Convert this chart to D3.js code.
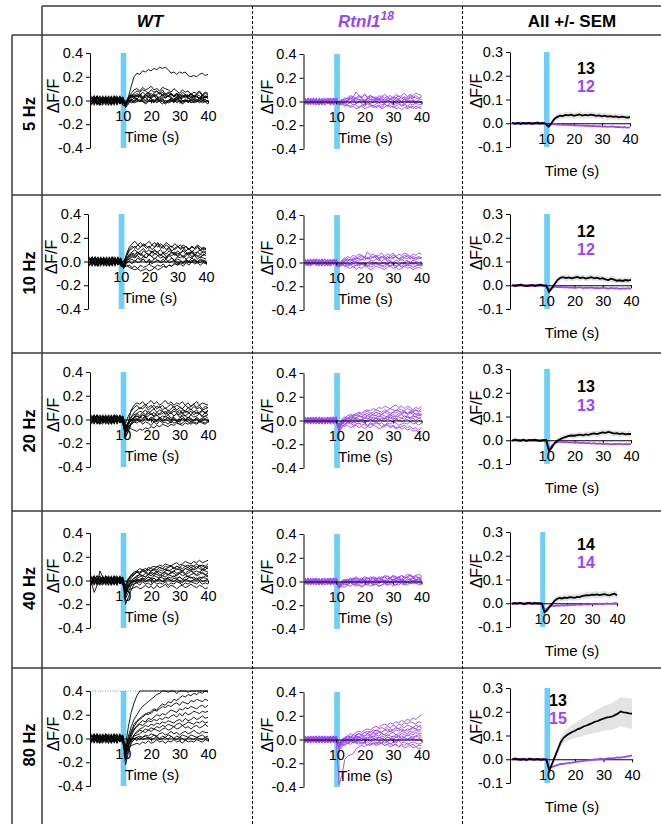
<!DOCTYPE html>
<html><head><meta charset="utf-8">
<script src="https://cdn.jsdelivr.net/npm/d3@7"></script>
<style>
body{margin:0;background:#fff;}
svg{display:block;font-family:"Liberation Sans",Arial,sans-serif;}
</style></head><body>
<svg id="c" width="661" height="824"></svg>
<script>
// ---------- data ----------
const rowLabels = ["5 Hz","10 Hz","20 Hz","40 Hz","80 Hz"];
const nWT = [13,12,13,14,13];
const nRtnl = [12,12,13,14,15];
const traceTimes = [-1,0,1,2,3,4,5,6,7,8,9,10,11,12,13,14,15,16,17,18,19,20,21,22,23,24,25,26,27,28,29,30,31,32,33,34,35,36,37,38,39,40];
const semTimes = [-2,-1,0,1,2,3,4,5,6,7,8,9,10,11,12,13,14,15,16,17,18,19,20,21,22,23,24,25,26,27,28,29,30,31,32,33,34,35,36,37,38,39,40];
const traceTicksY = [-0.4,-0.2,0,0.2,0.4];
const semTicksY = [-0.1,0,0.1,0.2,0.3];
const timeTicks = [10,20,30,40];
const stimWindow = [9.3,11.3];

// individual traces, ΔF/F in hundredths
const wt5Hz = [
[2,-3,1,4,-2,0,3,-4,1,-1,3,-2,-2,3,12,20,23,22,25,24,26,25,27,26,28,27,28,26,23,24,22,24,23,24,21,20,21,20,22,23,21,22],
[-3,1,4,-1,2,-4,0,3,-2,1,-3,2,-3,3,6,9,10,8,11,9,10,12,9,10,8,11,10,9,7,10,8,6,9,7,8,5,7,6,8,5,7,6],
[1,4,-2,-3,3,1,-4,2,0,-2,4,-1,-4,0,4,6,8,7,9,8,6,9,7,8,6,9,5,7,6,4,6,5,3,5,4,6,3,5,4,2,4,3],
[-2,0,3,-4,1,3,-1,-3,4,0,-2,3,-3,1,3,2,4,3,1,3,5,2,4,3,1,3,2,4,2,0,3,1,2,4,2,1,3,0,2,1,3,2],
[4,-1,-3,2,0,-2,4,1,-3,3,-1,0,-5,-2,0,2,1,-1,2,0,3,1,-1,2,0,1,-2,0,2,-1,1,3,0,-1,2,0,1,-1,2,0,1,-1],
[0,-4,2,1,-3,4,-2,0,3,-4,2,1,-4,-1,2,4,3,5,2,4,6,3,5,4,2,5,3,4,6,3,5,2,4,3,5,2,4,3,1,3,2,4],
[-1,3,-4,0,4,-2,1,-3,2,4,-3,-1,-2,0,-2,-1,1,-1,0,-3,-1,0,-2,1,-1,-3,0,-2,-1,1,-2,0,-3,-1,0,-2,-1,1,-2,0,-1,-3],
[3,-2,0,-3,1,2,-4,4,-1,-2,1,3,-3,2,5,3,6,4,7,5,3,6,4,5,7,4,6,3,5,4,6,3,5,2,4,5,3,4,2,5,3,4],
[-4,2,1,3,-2,-1,3,-2,4,-3,0,2,-6,-3,1,0,2,-1,1,3,0,2,-1,1,0,2,-2,0,1,-1,2,0,-1,1,-2,0,1,-1,0,2,-1,0],
[1,-1,4,-2,-4,3,0,2,-3,1,3,-4,-4,1,3,5,4,6,3,5,7,4,6,8,5,7,4,6,5,3,6,4,7,5,3,6,4,5,7,4,6,5],
[-3,4,-1,2,0,-3,2,-4,1,3,-2,0,-2,-1,0,-2,-1,1,-1,-2,0,-1,1,-2,0,-1,-3,-1,0,-2,1,-1,-2,0,-1,1,-2,-1,0,-2,-1,0],
[2,0,-2,-4,3,1,-1,3,-4,2,0,-3,-3,2,4,3,1,4,2,5,3,2,4,1,3,5,2,4,3,1,4,2,3,5,2,4,1,3,2,4,3,2]
];
const wt10Hz = [
[2,-3,1,4,-2,0,3,-4,1,-1,3,-2,-4,6,12,15,17,14,16,13,15,17,14,16,12,15,13,16,14,12,15,13,11,14,12,10,13,11,14,12,10,11],
[-3,1,4,-1,2,-4,0,3,-2,1,-3,2,-2,4,9,11,13,10,12,14,11,13,10,12,15,11,13,10,12,9,11,13,10,12,9,11,8,10,12,9,11,10],
[1,4,-2,-3,3,1,-4,2,0,-2,4,-1,-5,2,6,8,10,7,9,11,8,10,7,9,8,10,7,9,11,8,6,9,7,10,8,6,9,7,8,10,7,9],
[-2,0,3,-4,1,3,-1,-3,4,0,-2,3,-3,3,5,7,6,8,5,9,7,6,8,10,7,5,8,6,9,7,8,5,7,9,6,8,7,5,8,6,9,7],
[4,-1,-3,2,0,-2,4,1,-3,3,-1,0,-6,0,3,5,4,6,7,5,3,6,4,7,5,6,4,3,6,5,7,4,6,3,5,7,4,6,5,3,6,5],
[0,-4,2,1,-3,4,-2,0,3,-4,2,1,-4,1,2,4,3,5,2,4,3,6,4,2,5,3,4,2,5,3,1,4,3,5,2,4,3,5,2,4,3,2],
[-1,3,-4,0,4,-2,1,-3,2,4,-3,-1,-5,-2,1,2,0,3,1,2,-1,2,0,3,1,0,2,-1,1,3,0,2,1,-1,2,0,3,1,0,2,1,0],
[3,-2,0,-3,1,2,-4,4,-1,-2,1,3,-3,-1,0,-2,1,-1,0,2,-1,1,-2,0,1,-1,0,2,-1,0,1,-2,0,-1,1,0,-1,2,0,-1,1,0],
[-4,2,1,3,-2,-1,3,-2,4,-3,0,2,-5,-4,-3,-5,-4,-6,-3,-5,-4,-2,-4,-5,-3,-4,-2,-5,-3,-4,-1,-3,-2,-4,-1,-3,0,-2,-1,-3,-1,-2],
[1,-1,4,-2,-4,3,0,2,-3,1,3,-4,-4,-3,-5,-6,-7,-6,-8,-7,-6,-8,-7,-5,-7,-6,-4,-5,-3,-4,-2,-3,-1,-2,0,-1,1,0,-1,1,0,-1],
[-3,4,-1,2,0,-3,2,-4,1,3,-2,0,0,5,10,13,11,14,12,15,13,11,14,12,16,13,11,14,12,13,10,12,14,11,13,10,12,11,13,10,12,11],
[2,0,-2,-4,3,1,-1,3,-4,2,0,-3,-3,2,4,6,5,8,6,4,7,5,9,6,8,5,7,4,6,8,5,7,6,4,7,5,8,6,4,6,5,7]
];
const wt20Hz = [
[2,-3,1,4,-2,0,3,-4,1,-1,3,-2,-8,-2,8,12,14,13,15,12,14,16,13,15,12,14,16,13,15,12,14,13,15,12,14,11,13,15,12,14,13,12],
[-3,1,4,-1,2,-4,0,3,-2,1,-3,2,-12,-5,2,6,8,10,9,11,8,10,12,9,11,8,10,7,9,11,8,10,9,7,10,8,11,9,10,8,9,10],
[1,4,-2,-3,3,1,-4,2,0,-2,4,-1,-15,-10,-3,2,5,7,6,8,5,7,9,6,8,7,5,8,6,9,7,5,8,6,7,9,6,8,5,7,6,8],
[-2,0,3,-4,1,3,-1,-3,4,0,-2,3,-6,-2,2,4,5,3,6,4,7,5,3,6,4,5,7,4,6,3,5,4,6,3,5,7,4,6,5,3,6,4],
[4,-1,-3,2,0,-2,4,1,-3,3,-1,0,-9,-4,0,2,3,1,4,2,3,5,2,4,1,3,2,4,1,3,5,2,4,3,1,4,2,3,5,2,3,4],
[0,-4,2,1,-3,4,-2,0,3,-4,2,1,-7,-3,-1,0,1,-2,0,2,-1,1,0,-2,1,-1,0,2,-1,1,-2,0,1,-1,2,0,-1,1,-2,0,1,-1],
[-1,3,-4,0,4,-2,1,-3,2,4,-3,-1,-10,-6,-4,-2,-3,-1,-4,-2,-3,-5,-2,-4,-1,-3,-2,-4,-1,-3,-2,-4,-3,-1,-2,-4,-2,-3,-1,-2,-3,-1],
[3,-2,0,-3,1,2,-4,4,-1,-2,1,3,-5,-6,-8,-9,-10,-8,-9,-7,-8,-6,-7,-5,-6,-4,-5,-6,-4,-5,-3,-4,-5,-3,-4,-2,-3,-4,-2,-3,-4,-2],
[-4,2,1,3,-2,-1,3,-2,4,-3,0,2,-3,3,7,10,12,9,11,13,10,12,9,11,10,12,9,11,13,10,12,11,9,12,10,11,13,10,12,9,11,10],
[1,-1,4,-2,-4,3,0,2,-3,1,3,-4,-8,-3,0,1,3,2,4,3,5,4,6,3,5,7,4,6,5,7,6,8,5,7,6,4,7,5,6,8,5,7],
[-3,4,-1,2,0,-3,2,-4,1,3,-2,0,-11,-7,-3,-1,0,2,1,3,0,2,1,-1,2,0,3,1,0,2,-1,1,3,0,2,1,-1,2,0,1,3,1],
[2,0,-2,-4,3,1,-1,3,-4,2,0,-3,-14,-9,-4,-2,-1,0,-2,1,-1,0,-2,-1,1,-2,0,-1,-3,0,-1,-2,1,-1,0,-2,-1,0,-2,-1,0,-1]
];
const wt40Hz = [
[2,-3,1,4,-2,0,3,-4,1,-1,3,-2,-5,0,4,6,8,7,9,10,9,11,12,11,13,12,14,13,12,14,15,13,14,16,15,14,16,15,17,15,16,17],
[-3,1,4,-1,2,-4,0,3,-2,1,-3,2,-8,-2,2,5,7,6,8,7,9,8,10,9,11,10,9,11,12,10,12,11,13,12,11,13,12,14,12,13,12,14],
[1,4,-2,-3,3,1,-4,2,0,-2,4,-1,-12,-6,-1,2,4,5,4,6,5,7,6,8,7,6,8,9,7,8,10,9,8,10,9,11,9,10,12,10,9,11],
[-2,-10,-4,1,-1,3,-1,-3,4,0,-2,3,-15,-10,-4,0,2,3,4,3,5,4,6,5,4,6,7,5,6,8,6,7,8,6,8,9,7,8,7,9,8,7],
[4,-1,-3,8,3,-2,4,1,-3,3,-1,0,-20,-14,-8,-3,0,1,2,1,3,2,4,3,2,4,3,5,4,3,5,6,4,5,3,5,6,4,5,7,5,4],
[0,-4,2,1,-3,4,-2,0,3,-4,2,1,-10,-5,-2,0,1,0,2,1,3,1,2,0,3,2,1,3,2,4,2,3,1,3,4,2,3,1,3,2,4,3],
[-1,3,-4,0,4,-2,1,-3,2,4,-3,-1,-7,-4,-2,-1,0,-2,1,-1,0,2,-1,0,1,-1,0,2,0,-1,1,0,-2,1,0,-1,1,0,2,-1,0,1],
[3,-2,0,-3,1,2,-4,4,-1,-2,1,3,-9,-6,-4,-3,-2,-4,-1,-3,-2,-4,-1,-3,-2,-3,-1,-4,-2,-3,-1,-2,-4,-2,-3,-1,-2,-3,-1,-3,-2,-3],
[-4,2,1,3,-2,-1,3,-2,4,-3,0,2,-11,-8,-7,-6,-5,-7,-6,-4,-6,-5,-7,-4,-6,-5,-3,-6,-4,-5,-7,-5,-4,-6,-5,-3,-5,-6,-4,-5,-7,-6],
[1,-1,4,-2,-4,3,0,2,-3,1,3,-4,-6,1,5,7,8,10,9,8,11,10,9,12,11,10,12,11,13,10,12,11,10,12,13,11,12,10,13,12,11,12],
[-3,4,-1,2,0,-3,2,-4,1,3,-2,0,-13,-5,0,2,3,5,4,3,5,6,4,7,5,4,6,5,7,6,4,6,7,5,6,8,6,5,7,6,5,6],
[2,0,-2,-4,3,1,-1,3,-4,2,0,-3,-8,-3,-1,0,-2,0,1,-1,1,0,2,0,1,-1,2,1,0,2,1,3,1,0,2,3,1,2,0,3,2,1],
[-2,3,1,-1,-3,4,2,-2,0,-4,3,1,-4,2,4,5,7,6,8,7,6,8,9,7,9,8,10,8,9,11,9,10,8,10,11,9,10,12,10,9,11,10]
];
const wt80Hz = [
[2,-3,1,4,-2,0,3,-4,1,-1,3,-2,-6,10,22,30,36,40,40,40,40,40,40,40,40,40,40,40,40,40,40,40,40,40,40,40,40,40,40,40,40,40],
[-3,1,4,-1,2,-4,0,3,-2,1,-3,2,-10,2,10,16,20,24,27,29,31,33,35,37,38,40,40,39,40,40,38,40,40,40,39,40,40,40,40,40,40,40],
[1,4,-2,-3,3,1,-4,2,0,-2,4,-1,-12,-4,5,10,14,16,18,20,22,21,24,23,25,27,26,28,27,29,30,28,31,30,29,32,31,33,32,31,33,32],
[-2,0,3,-4,1,3,-1,-3,4,0,-2,3,-15,-8,2,7,11,13,15,14,17,16,18,20,19,21,20,22,24,23,22,25,24,26,25,27,26,25,27,28,26,28],
[4,-1,-3,2,0,-2,4,1,-3,3,-1,0,-8,-2,4,8,10,12,11,13,15,14,16,15,17,16,18,17,19,20,18,21,19,22,20,21,23,22,21,23,22,23],
[0,-4,2,1,-3,4,-2,0,3,-4,2,1,-22,-12,-3,3,6,8,9,11,10,12,11,13,12,14,13,15,14,13,15,16,14,17,15,16,18,16,17,19,17,18],
[-1,3,-4,0,4,-2,1,-3,2,4,-3,-1,-14,-6,0,3,5,7,6,8,7,9,8,10,9,11,10,12,11,10,12,13,11,12,14,13,12,14,13,15,13,14],
[3,-2,0,-3,1,2,-4,4,-1,-2,1,3,-10,-5,-1,2,3,4,6,5,7,6,8,7,6,8,9,7,8,10,8,9,11,9,10,8,10,11,9,10,12,10],
[-4,2,1,3,-2,-1,3,-2,4,-3,0,2,-18,-10,-4,-1,1,2,1,3,2,4,3,2,4,5,3,4,6,4,5,3,5,6,4,5,7,5,4,6,5,5],
[1,-1,4,-2,-4,3,0,2,-3,1,3,-4,-9,-5,-2,0,1,-1,1,2,0,1,3,1,0,2,1,3,2,0,2,1,3,2,1,3,2,1,2,3,1,2],
[-3,4,-1,2,0,-3,2,-4,1,3,-2,0,-7,-3,-1,0,-2,1,-1,0,1,-1,0,2,-1,0,1,-1,2,0,-1,1,0,-2,1,0,-1,1,0,-1,1,0],
[2,0,-2,-4,3,1,-1,3,-4,2,0,-3,-12,-8,-6,-5,-4,-5,-3,-4,-2,-4,-3,-1,-3,-2,-4,-2,-3,-1,-3,-2,-4,-1,-3,-2,-3,-1,-2,-3,-1,-2],
[-2,3,1,-1,-3,4,2,-2,0,-4,3,1,-8,0,6,12,15,17,19,21,20,23,25,24,27,29,28,31,30,33,32,34,36,35,37,36,38,37,39,38,40,39]
];
const rtnl5Hz = [
[1,-2,3,-1,0,2,-3,1,-1,3,-2,0,-1,1,2,3,2,4,3,5,4,6,3,5,4,2,5,3,6,4,5,3,6,4,5,7,4,6,5,7,6,5],
[-2,1,-1,3,-3,0,2,-1,3,-2,1,-1,-2,0,1,3,5,4,8,5,3,6,4,5,3,4,2,5,3,4,2,4,3,5,2,4,3,5,4,3,2,4],
[3,-1,0,-2,2,-3,1,3,-2,0,-1,2,-1,-2,0,1,2,0,3,1,2,0,3,1,2,3,1,2,0,3,2,1,3,2,0,2,1,3,2,0,1,2],
[-1,3,-2,1,-1,2,-3,0,2,-3,3,-1,-3,-1,-2,0,-1,1,-2,0,-1,1,0,-2,0,1,-1,0,-2,1,0,-1,1,-1,0,-2,0,1,-1,0,-1,0],
[0,-3,2,-2,3,-1,1,-3,0,2,-2,3,-2,-1,-3,-2,-1,-3,-2,0,-2,-3,-1,-2,-4,-2,-1,-3,-2,-4,-1,-3,-2,-1,-3,-2,-4,-2,-3,-1,-3,-2],
[2,0,-3,3,-1,-2,3,-1,1,-3,2,0,-2,-2,-1,-3,-4,-2,-3,-5,-3,-4,-2,-3,-5,-4,-3,-5,-2,-4,-3,-5,-4,-2,-4,-3,-5,-4,-6,-4,-5,-4],
[-3,2,1,-1,2,-3,0,2,-2,1,3,-2,0,2,0,1,3,2,1,2,0,1,2,4,1,2,3,1,2,0,2,3,1,2,4,3,2,4,3,5,3,4],
[1,-1,-2,2,-3,3,-1,0,3,-1,-2,1,-3,-2,-4,-3,-5,-4,-6,-5,-4,-6,-5,-4,-3,-5,-4,-6,-5,-3,-5,-4,-6,-5,-7,-5,-6,-5,-4,-6,-5,-6],
[-2,3,-1,0,1,-2,2,-3,1,3,-3,0,-1,1,3,2,4,3,2,4,3,1,3,2,0,2,1,3,1,2,0,1,-1,1,0,2,-1,0,1,-1,0,-1],
[3,-2,2,-3,0,1,-2,2,-1,-2,1,3,-2,0,-1,1,0,2,-1,0,1,-1,1,0,-1,0,2,0,-1,1,0,-2,0,1,-1,0,1,-1,0,-2,0,-1]
];
const rtnl10Hz = [
[0,2,-3,1,3,-1,-2,1,-3,2,0,-2,-2,1,3,5,4,6,5,7,6,4,9,6,7,5,6,8,5,7,6,8,5,7,6,8,7,5,7,6,8,7],
[-1,-2,3,0,-2,3,1,-3,2,-1,3,-1,-3,0,2,3,2,4,3,5,6,4,3,5,4,6,3,5,4,2,4,3,5,3,2,4,3,5,4,2,4,3],
[2,-3,0,2,-1,-2,3,0,-3,1,-1,2,-2,-1,1,2,1,3,2,1,3,2,4,2,1,3,2,1,3,1,2,0,2,1,3,1,2,0,2,1,0,1],
[-3,1,2,-2,3,0,-1,3,-2,0,2,-3,-4,-2,-1,0,-2,-1,1,-1,0,-2,0,1,-1,0,-2,-1,0,-1,1,-1,0,-2,0,-1,1,0,-1,0,-2,-1],
[1,-2,3,-1,0,2,-3,1,-1,3,-2,0,-3,-2,-3,-1,-2,-4,-2,-3,-1,-3,-2,-4,-3,-1,-2,-3,-4,-2,-3,-1,-3,-2,-4,-3,-2,-3,-1,-3,-2,-3],
[-2,1,-1,3,-3,0,2,-1,3,-2,1,-1,-2,-1,-3,-4,-5,-3,-6,-4,-5,-3,-4,-6,-5,-3,-4,-5,-6,-4,-3,-5,-4,-6,-5,-3,-5,-4,-6,-5,-4,-5],
[3,-1,0,-2,2,-3,1,3,-2,0,-1,2,-1,2,4,2,3,1,4,3,2,5,4,3,5,4,2,4,5,3,6,4,5,3,4,6,5,3,5,4,3,4],
[-1,3,-2,1,-1,2,-3,0,2,-3,3,-1,-3,-1,0,-2,-1,1,0,-2,-1,0,-3,-1,-2,0,-1,-3,-2,-1,-3,-2,-4,-2,-3,-1,-3,-2,-4,-3,-2,-3],
[0,-3,2,-2,3,-1,1,-3,0,2,-2,3,-2,0,2,1,3,2,4,3,5,4,3,5,4,6,4,5,3,5,4,6,5,3,5,4,6,5,3,4,5,4],
[2,0,-3,3,-1,-2,3,-1,1,-3,2,0,-3,-2,-1,-3,-2,-1,-3,0,-2,-1,-3,-2,0,-1,-2,0,-1,-2,1,-1,0,-2,-1,0,-2,-1,0,-1,-2,-1]
];
const rtnl20Hz = [
[1,-2,3,-1,0,2,-3,1,-1,3,-2,0,-4,0,2,4,5,4,6,7,6,8,9,8,10,9,11,10,12,11,10,12,13,11,12,10,12,11,9,11,10,12],
[-2,1,-1,3,-3,0,2,-1,3,-2,1,-1,-6,-2,1,2,3,5,4,6,5,7,8,6,7,9,8,7,9,8,10,9,8,10,9,8,10,9,8,9,7,8],
[3,-1,0,-2,2,-3,1,3,-2,0,-1,2,-8,-3,0,1,2,3,2,4,3,5,4,6,5,4,6,5,7,6,5,7,6,8,6,7,5,6,7,5,6,5],
[-1,3,-2,1,-1,2,-3,0,2,-3,3,-1,-5,-1,1,2,1,3,2,4,3,2,4,3,5,4,3,5,4,3,4,5,3,4,5,3,4,2,4,3,5,4],
[0,-3,2,-2,3,-1,1,-3,0,2,-2,3,-7,-3,-1,0,1,0,2,1,0,2,1,3,1,2,0,2,1,3,2,1,2,0,2,1,3,1,2,0,2,1],
[2,0,-3,3,-1,-2,3,-1,1,-3,2,0,-4,-2,-1,0,-1,1,0,-1,1,-1,0,1,-1,0,2,0,-1,1,0,-1,1,0,-1,0,1,-1,0,-2,0,-1],
[-3,2,1,-1,2,-3,0,2,-2,1,3,-2,-9,-5,-3,-2,-3,-1,-2,-3,-1,-2,-4,-2,-3,-1,-3,-2,-4,-2,-3,-1,-2,-4,-3,-2,-3,-1,-3,-2,-4,-2],
[1,-1,-2,2,-3,3,-1,0,3,-1,-2,1,-6,-4,-5,-4,-6,-5,-4,-6,-5,-7,-5,-6,-4,-5,-7,-6,-5,-4,-6,-5,-7,-6,-5,-4,-6,-5,-7,-6,-8,-6],
[-2,3,-1,0,1,-2,2,-3,1,3,-3,0,-5,1,3,2,4,3,5,4,3,5,6,4,5,7,6,5,7,8,6,7,9,8,7,8,6,7,5,6,4,5],
[3,-2,2,-3,0,1,-2,2,-1,-2,1,3,-10,-6,-4,-2,-1,-2,0,-1,1,0,-1,1,0,2,1,0,2,1,3,2,1,3,2,4,3,2,4,3,2,3],
[0,2,-3,1,3,-1,-2,1,-3,2,0,-2,-3,0,1,-1,0,2,1,0,1,3,2,1,3,2,4,3,2,4,5,3,4,6,5,7,6,8,7,9,8,10],
[-1,-2,3,0,-2,3,1,-3,2,-1,3,-1,-5,-2,-3,-1,-2,-4,-3,-2,-4,-3,-5,-3,-4,-2,-3,-5,-4,-3,-5,-4,-6,-5,-7,-6,-8,-7,-9,-8,-10,-9]
];
const rtnl40Hz = [
[1,-2,3,-1,0,2,-3,1,-1,3,-2,0,-4,-1,1,0,2,1,3,2,1,3,2,4,3,2,4,3,5,4,3,5,4,3,5,4,6,5,4,5,6,5],
[-2,1,-1,3,-3,0,2,-1,3,-2,1,-1,-3,0,1,2,1,3,2,1,2,4,3,2,3,1,3,2,4,2,3,5,3,4,2,4,3,5,3,4,3,4],
[3,-1,0,-2,2,-3,1,3,-2,0,-1,2,-5,-2,0,1,0,2,1,0,2,1,0,2,1,3,1,2,0,2,3,1,2,3,1,2,4,2,3,1,3,2],
[-1,3,-2,1,-1,2,-3,0,2,-3,3,-1,-6,-3,-1,0,-1,1,0,-1,1,0,-1,1,0,2,0,1,-1,1,0,2,1,0,1,-1,1,2,0,1,2,1],
[0,-3,2,-2,3,-1,1,-3,0,2,-2,3,-4,-2,-1,-2,0,-1,-2,0,-1,1,-1,0,-2,0,-1,1,0,-1,0,1,-1,0,1,0,-1,1,0,2,0,1],
[2,0,-3,3,-1,-2,3,-1,1,-3,2,0,-3,-1,-2,-3,-1,-2,-3,-2,-4,-2,-3,-1,-3,-2,-4,-3,-2,-3,-1,-2,-3,-1,-2,-3,-1,-2,0,-2,-1,-2],
[-3,2,1,-1,2,-3,0,2,-2,1,3,-2,-5,-4,-5,-3,-4,-2,-4,-3,-5,-3,-2,-4,-3,-2,-4,-3,-1,-3,-2,-4,-2,-3,-1,-2,-3,-1,-2,-1,-3,-2],
[1,-1,-2,2,-3,3,-1,0,3,-1,-2,1,-2,1,2,1,3,2,4,2,3,1,3,2,4,3,2,4,3,5,3,4,2,4,5,3,4,6,4,5,3,4],
[-2,3,-1,0,1,-2,2,-3,1,3,-3,0,-4,-1,0,-1,1,0,-1,1,0,2,0,1,-1,1,0,2,1,0,2,1,3,1,2,0,2,1,3,2,1,2],
[3,-2,2,-3,0,1,-2,2,-1,-2,1,3,-3,0,-1,1,0,-1,1,0,-1,0,1,-1,0,1,-1,0,1,0,-1,1,0,2,0,1,-1,1,0,1,0,1],
[0,2,-3,1,3,-1,-2,1,-3,2,0,-2,-5,-2,-3,-2,-1,-3,-2,-1,-2,0,-2,-1,-3,-1,-2,0,-1,-2,0,-1,1,-1,0,-2,0,-1,1,0,-1,0]
];
const rtnl80Hz = [
[1,-2,3,-1,0,2,-3,1,-1,3,-2,0,-38,-30,-17,-14,-13,-12,-8,-6,-5,-6,-4,-5,-3,-4,-2,-3,-1,-2,0,-1,-2,0,-1,1,0,-1,1,0,-1,0],
[-2,1,-1,3,-3,0,2,-1,3,-2,1,-1,-3,0,2,3,5,4,6,7,6,8,9,8,10,11,10,12,13,12,14,13,15,14,16,15,17,16,18,17,19,21],
[3,-1,0,-2,2,-3,1,3,-2,0,-1,2,-4,-1,1,2,3,2,4,5,4,6,7,6,8,7,9,10,9,11,10,12,11,13,12,14,13,15,14,13,15,14],
[-1,3,-2,1,-1,2,-3,0,2,-3,3,-1,-5,-2,0,1,2,1,3,2,4,3,5,4,6,5,7,6,8,7,9,8,10,9,11,10,12,11,10,12,11,12],
[0,-3,2,-2,3,-1,1,-3,0,2,-2,3,-3,0,1,0,2,1,3,2,1,3,4,3,5,4,6,5,4,6,7,6,8,7,9,8,7,9,10,9,11,10],
[2,0,-3,3,-1,-2,3,-1,1,-3,2,0,-6,-3,-1,0,1,0,2,1,3,2,1,3,2,4,3,5,4,3,5,6,4,5,7,6,5,7,6,8,7,7],
[-3,2,1,-1,2,-3,0,2,-2,1,3,-2,-4,-2,-1,0,-1,1,0,2,1,0,2,1,3,2,1,3,2,4,3,2,4,3,5,4,3,5,4,6,5,5],
[1,-1,-2,2,-3,3,-1,0,3,-1,-2,1,-7,-4,-2,-1,0,-1,1,0,-1,1,0,2,1,0,2,1,0,2,1,3,2,1,3,2,4,3,2,3,4,3],
[-2,3,-1,0,1,-2,2,-3,1,3,-3,0,-5,-3,-2,-1,0,-2,-1,0,1,-1,0,-1,1,0,-1,1,0,-1,0,1,-1,0,1,-1,0,1,0,-1,1,0],
[3,-2,2,-3,0,1,-2,2,-1,-2,1,3,-8,-5,-3,-2,-1,-3,-2,-1,-3,-2,0,-2,-1,-3,-2,-1,-3,-2,-4,-2,-3,-1,-3,-2,-4,-3,-2,-3,-4,-3],
[0,2,-3,1,3,-1,-2,1,-3,2,0,-2,-6,-4,-5,-3,-4,-2,-3,-4,-2,-3,-5,-3,-4,-2,-4,-3,-5,-4,-3,-5,-4,-6,-4,-5,-3,-5,-4,-6,-5,-5],
[-1,-2,3,0,-2,3,1,-3,2,-1,3,-1,-5,-1,1,3,2,4,3,5,4,6,5,7,6,8,7,6,8,9,7,8,10,9,8,7,9,8,10,9,8,9],
[2,-3,0,2,-1,-2,3,0,-3,1,-1,2,-9,-6,-4,-3,-2,-1,-2,0,-1,1,0,-1,1,0,2,1,0,2,1,0,2,3,1,2,0,2,1,3,2,2],
[-3,1,2,-2,3,0,-1,3,-2,0,2,-3,-4,-2,-1,-3,-2,-1,-3,-2,-4,-3,-2,-4,-3,-5,-4,-3,-5,-4,-6,-5,-4,-6,-5,-7,-6,-5,-7,-6,-8,-7]
];

// means and SEM, ΔF/F in thousandths (semTimes)
const meanWT5Hz = [3,-2,2,-3,1,-1,2,-2,0,3,-1,1,-2,-14,0,18,26,32,30,35,33,36,31,34,37,32,35,33,36,34,31,33,29,32,28,30,27,29,25,28,26,24,26];
const meanRtnl5Hz = [1,-2,0,2,-1,1,-1,0,2,-2,0,1,-1,-10,-4,-3,-6,-5,-7,-6,-8,-7,-9,-8,-10,-9,-11,-10,-12,-11,-13,-12,-14,-13,-15,-14,-13,-16,-15,-17,-16,-18,-17];
const semWT5Hz = [4,5,4,4,5,4,4,5,4,4,5,4,5,8,10,12,12,13,12,13,14,13,12,13,14,13,12,13,14,13,12,13,12,13,14,13,12,13,12,13,12,13,12];
const meanWT10Hz = [1,-3,0,2,-1,-4,-2,1,-3,0,2,-1,-2,-28,-12,5,22,31,34,30,33,29,32,35,30,33,28,31,34,29,32,27,30,25,22,28,24,19,21,18,22,20,23];
const meanRtnl10Hz = [-2,1,-1,2,-3,0,1,-2,0,-1,1,-2,0,-20,-10,-6,-8,-7,-9,-8,-10,-9,-11,-10,-8,-12,-10,-11,-9,-12,-11,-13,-10,-12,-14,-11,-13,-12,-15,-13,-14,-12,-15];
const semWT10Hz = [5,4,4,5,4,5,4,4,5,4,5,4,4,9,9,11,12,11,12,13,12,11,12,13,12,11,12,13,12,11,12,13,12,11,12,13,12,11,12,13,12,11,12];
const meanWT20Hz = [-2,3,0,-1,2,-3,1,0,2,-1,-2,0,1,-45,-30,-12,-2,5,10,14,18,20,19,22,24,21,25,23,27,29,26,30,33,31,35,32,28,30,26,29,25,27,26];
const meanRtnl20Hz = [0,1,-1,-3,2,0,-1,1,-2,0,-1,1,-1,-40,-22,-12,-8,-6,-9,-7,-10,-8,-11,-9,-12,-10,-13,-11,-14,-12,-15,-13,-16,-14,-15,-17,-15,-16,-14,-17,-15,-16,-15];
const semWT20Hz = [4,5,4,5,4,4,5,4,5,4,4,5,4,10,10,10,11,12,11,12,11,12,13,12,11,12,13,12,11,12,13,12,13,12,11,12,13,12,13,12,11,12,13];
const meanWT40Hz = [-3,1,-2,2,-1,-4,0,2,-2,1,-1,0,-2,-38,-30,-15,-3,10,18,22,20,24,22,26,25,23,27,26,30,32,34,33,36,35,37,34,36,38,35,33,37,40,34];
const meanRtnl40Hz = [1,-2,0,1,-1,0,2,-1,0,-2,1,-1,0,-30,-22,-15,-10,-12,-9,-11,-8,-10,-7,-9,-6,-8,-5,-7,-6,-4,-6,-5,-3,-5,-4,-2,-4,-3,-1,-3,-2,0,-1];
const semWT40Hz = [4,5,4,4,5,4,5,4,4,5,4,5,4,10,10,11,12,12,13,12,13,14,13,12,13,14,13,14,13,14,15,14,13,14,15,14,15,14,13,14,15,14,15];
const meanWT80Hz = [-1,3,0,-2,1,-3,2,0,-1,1,-2,0,-3,-48,-18,12,42,72,90,100,108,115,120,127,131,138,142,147,152,158,161,167,171,175,177,180,186,192,201,197,196,193,192];
const meanRtnl80Hz = [1,0,-1,2,-1,0,1,-2,0,1,-1,0,1,-40,-32,-28,-24,-20,-19,-17,-15,-14,-12,-10,-9,-7,-6,-4,-3,-1,0,2,1,3,5,4,6,8,7,9,11,13,16];
const semWT80Hz = [6,5,6,5,6,5,6,5,6,5,6,5,6,12,14,16,18,20,22,25,28,30,32,34,36,38,40,42,44,46,48,50,52,53,55,56,58,60,61,62,63,64,65];

// ---------- layout / style ----------
const COL_BLACK = "#000", COL_PURPLE = "#9b45f5", COL_BLUE = "#6dcff6", COL_GRID = "#3a3a3a";
const rowTops = [35,195,353,511,668];
const plotTops = [53,214,372,533,691];
const semTops = [52,214,369,532,688];
const wtAxisX = [90,88,90,90,90];
const rtAxisX = 303.5;
const semAxisX = 510;
const semRight = [630,631,631,617,632];
const nLabelX = [577,577,577,577,549];
const nLabelY = [73.5,236.5,392,549.5,705.5];
const plotW = 118, plotH = 95;
const FONT = "'Liberation Sans', Arial, sans-serif";
const TICK_FS = 14.5, TIME_FS = 15, YLAB_FS = 16;

const wtData = [wt5Hz, wt10Hz, wt20Hz, wt40Hz, wt80Hz];
const rtData = [rtnl5Hz, rtnl10Hz, rtnl20Hz, rtnl40Hz, rtnl80Hz];
const meanWT = [meanWT5Hz, meanWT10Hz, meanWT20Hz, meanWT40Hz, meanWT80Hz];
const meanRt = [meanRtnl5Hz, meanRtnl10Hz, meanRtnl20Hz, meanRtnl40Hz, meanRtnl80Hz];
const semWT = [semWT5Hz, semWT10Hz, semWT20Hz, semWT40Hz, semWT80Hz];

const svg = d3.select("#c");
const fmt = d => d.toFixed(1);

function styleAxis(g) {
  g.attr("font-size", TICK_FS).attr("font-family", FONT);
  g.selectAll("path,line").attr("stroke", "#000").attr("stroke-width", 1);
  g.selectAll("text").attr("fill", "#000");
}

function tracePanel(traces, color, axisX, top, clipTop) {
  const g = svg.append("g");
  const x = d3.scaleLinear().domain([-1.5, 40]).range([axisX, axisX + plotW]);
  const y = d3.scaleLinear().domain([-0.4, 0.4]).range([top + plotH, top]);
  g.append("rect").attr("x", x(stimWindow[0])).attr("width", x(stimWindow[1]) - x(stimWindow[0]))
    .attr("y", y(0.4)).attr("height", y(-0.4) - y(0.4)).attr("fill", COL_BLUE);
  if (clipTop) {
    g.append("line").attr("x1", x(-1.5)).attr("x2", x(40)).attr("y1", y(0.4)).attr("y2", y(0.4))
      .attr("stroke", "#777").attr("stroke-width", 0.8).attr("stroke-dasharray", "1,1.5");
  }
  const line = d3.line().defined((d, i) => i < traceTimes.length)
    .x((d, i) => x(traceTimes[i])).y(d => y(d / 100));
  traces.forEach(t => g.append("path").attr("d", line(t)).attr("fill", "none")
    .attr("stroke", color).attr("stroke-width", 0.9).attr("stroke-linejoin", "round"));
  const xa = g.append("g").attr("transform", `translate(0,${y(0)})`)
    .call(d3.axisBottom(x).tickValues(timeTicks).tickSize(3).tickSizeOuter(0).tickPadding(7));
  styleAxis(xa);
  const ya = g.append("g").attr("transform", `translate(${axisX},0)`)
    .call(d3.axisLeft(y).tickValues(traceTicksY).tickFormat(fmt).tickSize(4).tickSizeOuter(0).tickPadding(3));
  styleAxis(ya);
  g.append("text").attr("x", axisX + 62).attr("y", top + 88.5).attr("text-anchor", "middle")
    .attr("font-size", TIME_FS).attr("font-family", FONT).text("Time (s)");
  g.append("text").attr("transform", `translate(${axisX - 31},${top + 43}) rotate(-90)`)
    .attr("text-anchor", "middle").attr("font-size", YLAB_FS).attr("font-family", FONT).text("ΔF/F");
}

function semPanel(r) {
  const top = semTops[r];
  const g = svg.append("g");
  const x = d3.scaleLinear().domain([-2.8, 40]).range([semAxisX, semRight[r]]);
  const y = d3.scaleLinear().domain([-0.1, 0.3]).range([top + plotH, top]);
  const m = meanWT[r], e = semWT[r];
  const area = d3.area().x((d, i) => x(semTimes[i]))
    .y0((d, i) => y((m[i] - e[i]) / 1000)).y1((d, i) => y((m[i] + e[i]) / 1000));
  g.append("path").attr("d", area(m)).attr("fill", "#e3e3e3");
  g.append("rect").attr("x", x(stimWindow[0])).attr("width", x(stimWindow[1]) - x(stimWindow[0]))
    .attr("y", y(0.3)).attr("height", y(-0.1) - y(0.3)).attr("fill", COL_BLUE);
  const xa = g.append("g").attr("transform", `translate(0,${y(0)})`)
    .call(d3.axisBottom(x).tickValues(timeTicks).tickSize(3).tickSizeOuter(0).tickPadding(7));
  styleAxis(xa);
  const line = d3.line().x((d, i) => x(semTimes[i])).y(d => y(d / 1000));
  g.append("path").attr("d", line(meanRt[r])).attr("fill", "none").attr("stroke", COL_PURPLE).attr("stroke-width", 1.8);
  g.append("path").attr("d", line(m)).attr("fill", "none").attr("stroke", COL_BLACK).attr("stroke-width", 1.8);
  const ya = g.append("g").attr("transform", `translate(${semAxisX},0)`)
    .call(d3.axisLeft(y).tickValues(semTicksY).tickFormat(fmt).tickSize(4).tickSizeOuter(0).tickPadding(3));
  styleAxis(ya);
  g.append("text").attr("x", semAxisX + 62).attr("y", top + 124).attr("text-anchor", "middle")
    .attr("font-size", TIME_FS).attr("font-family", FONT).text("Time (s)");
  g.append("text").attr("transform", `translate(${semAxisX - 28},${top + 39}) rotate(-90)`)
    .attr("text-anchor", "middle").attr("font-size", YLAB_FS).attr("font-family", FONT).text("ΔF/F");
  g.append("text").attr("x", nLabelX[r]).attr("y", nLabelY[r]).attr("font-size", 16).attr("font-weight", "bold")
    .attr("font-family", FONT).attr("fill", COL_BLACK).text(nWT[r]);
  g.append("text").attr("x", nLabelX[r]).attr("y", nLabelY[r] + 18.5).attr("font-size", 16).attr("font-weight", "bold")
    .attr("font-family", FONT).attr("fill", COL_PURPLE).text(nRtnl[r]);
}

// ---------- table frame ----------
const frame = svg.append("g").attr("stroke", COL_GRID).attr("stroke-width", 1.5);
frame.append("line").attr("x1", 42).attr("x2", 661).attr("y1", 6).attr("y2", 6);
rowTops.forEach(t => frame.append("line").attr("x1", 12).attr("x2", 661).attr("y1", t).attr("y2", t));
frame.append("line").attr("x1", 12).attr("x2", 12).attr("y1", 35).attr("y2", 824);
frame.append("line").attr("x1", 42).attr("x2", 42).attr("y1", 6).attr("y2", 824);
[252.5, 462.5].forEach(xv => svg.append("line").attr("x1", xv).attr("x2", xv).attr("y1", 6).attr("y2", 824)
  .attr("stroke", "#000").attr("stroke-width", 1).attr("stroke-dasharray", "3,2"));

// headers
svg.append("text").attr("x", 150).attr("y", 27).attr("text-anchor", "middle").attr("font-size", 17)
  .attr("font-weight", "bold").attr("font-style", "italic").attr("font-family", FONT).text("WT");
const h2 = svg.append("text").attr("x", 366).attr("y", 27).attr("text-anchor", "middle").attr("font-size", 17)
  .attr("font-weight", "bold").attr("font-style", "italic").attr("font-family", FONT).attr("fill", COL_PURPLE);
h2.append("tspan").text("Rtnl1");
h2.append("tspan").attr("font-size", 12).attr("dy", -7).text("18");
svg.append("text").attr("x", 572).attr("y", 27).attr("text-anchor", "middle").attr("font-size", 17)
  .attr("font-weight", "bold").attr("font-family", FONT).text("All +/- SEM");

// rows
rowLabels.forEach((lab, r) => {
  const cy = (r < 4 ? (rowTops[r] + rowTops[r + 1]) / 2 : (rowTops[r] + 824) / 2) - 1;
  svg.append("text").attr("transform", `translate(34.5,${cy}) rotate(-90)`).attr("text-anchor", "middle")
    .attr("font-size", 16.5).attr("font-weight", "bold").attr("font-family", FONT).text(lab);
  tracePanel(wtData[r], COL_BLACK, wtAxisX[r], plotTops[r], r === 4);
  tracePanel(rtData[r], COL_PURPLE, rtAxisX, plotTops[r] + 1, false);
  semPanel(r);
});
</script>
</body></html>
